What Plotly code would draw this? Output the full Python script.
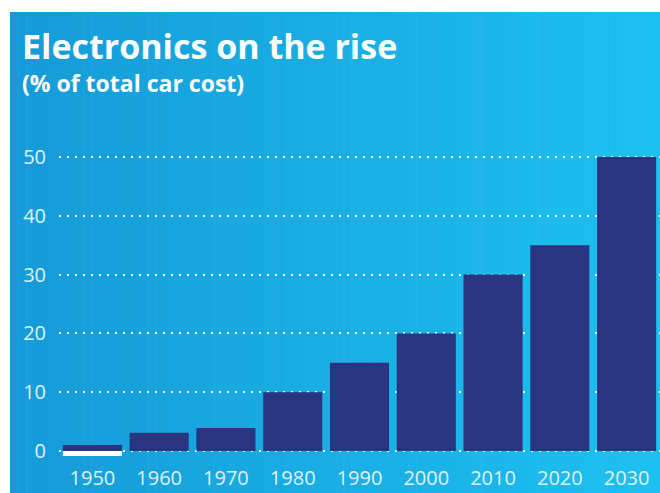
import plotly.graph_objects as go

# ---- data ----
years = ["1950", "1960", "1970", "1980", "1990", "2000", "2010", "2020", "2030"]
share = [1.0, 3.1, 3.9, 10, 15, 20, 30, 35, 50]
base_white = [-0.85, 0, 0, 0, 0, 0, 0, 0, 0]
y_ticks = [0, 10, 20, 30, 40, 50]

W, H = 660, 493
L, R, T, B = 59, 0, 151, 36
plot_w = W - L - R
plot_h = H - T - B

def px_x(p):
    return (p - L) / plot_w

def px_y(p):
    return (H - B - p) / plot_h

fig = go.Figure()
fig.add_trace(go.Bar(x=years, y=share, marker=dict(color="#2a3580", line=dict(width=0)),
                     hoverinfo="x+y"))
fig.add_trace(go.Bar(x=years, y=base_white, marker=dict(color="#ffffff", line=dict(width=0)),
                     hoverinfo="skip"))

# gradient background panel (stripes)
shapes = []
n = 80
x_start, x_end = 10, 660
c0 = (22, 155, 216)
c1 = (30, 192, 240)
for i in range(n):
    a = x_start + (x_end - x_start) * i / n
    b = x_start + (x_end - x_start) * (i + 1) / n + 0.6
    t = i / (n - 1)
    col = "rgb(%d,%d,%d)" % tuple(round(c0[k] + (c1[k] - c0[k]) * t) for k in range(3))
    shapes.append(dict(type="rect", xref="paper", yref="paper",
                       x0=px_x(a), x1=px_x(min(b, W)), y0=px_y(H), y1=px_y(12),
                       fillcolor=col, line=dict(width=0), layer="below"))

FONT = "Open Sans, Lato, sans-serif"
TICK_COL = "#dff2fa"
fig.update_layout(
    width=W, height=H,
    margin=dict(l=L, r=R, t=T, b=B),
    paper_bgcolor="white",
    plot_bgcolor="rgba(0,0,0,0)",
    barmode="relative",
    bargap=0.115,
    showlegend=False,
    shapes=shapes,
    font=dict(family=FONT, color=TICK_COL),
    xaxis=dict(showgrid=False, showline=False, zeroline=False, ticks="",
               tickfont=dict(size=20, color=TICK_COL), ticklabelstandoff=7),
    yaxis=dict(range=[-1.02, 51.02], tickvals=y_ticks, showgrid=True,
               gridcolor="rgba(255,255,255,0.95)", gridwidth=2, griddash="2px,6px",
               zeroline=False, showline=False, ticks="",
               tickfont=dict(size=20, color=TICK_COL), ticklabelstandoff=12),
    annotations=[
        dict(text="<b>Electronics on the rise</b>", xref="paper", yref="paper",
             x=px_x(20), y=px_y(21), xanchor="left", yanchor="top", showarrow=False,
             font=dict(size=34, color="white", family=FONT)),
        dict(text="<b>(% of total car cost)</b>", xref="paper", yref="paper",
             x=px_x(20), y=px_y(65), xanchor="left", yanchor="top", showarrow=False,
             font=dict(size=23, color="white", family=FONT)),
    ],
)

fig.write_html("out.html", config={"displayModeBar": False},
               post_script="document.body.style.margin='0';")
